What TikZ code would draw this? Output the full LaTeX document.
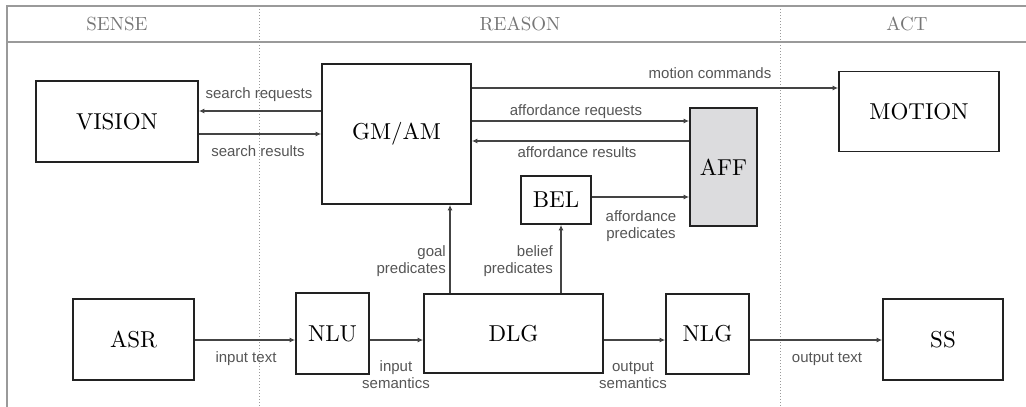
\documentclass[tikz,border=0pt]{standalone}
\usepackage{fontspec}
\usepackage{graphicx}
\newfontfamily\labelfont{Liberation Sans}
\usetikzlibrary{arrows.meta}
\definecolor{frame}{HTML}{9A9A9A}
\definecolor{head}{HTML}{767676}
\definecolor{boxline}{HTML}{222222}
\definecolor{wire}{HTML}{444444}
\definecolor{labtext}{HTML}{555555}
\definecolor{afffill}{HTML}{DCDCDE}
% module names: 10pt Latin Modern enlarged, keeping its wide 10pt design
\newcommand{\modname}[1]{\scalebox{2.3}{#1}}
\newcommand{\lanename}[1]{\scalebox{1.9}{#1}}
\tikzset{
  module/.style={draw=boxline, line width=1.7pt, fill=white, inner sep=0pt},
  lane/.style={text=head, inner sep=0pt},
  flow/.style={draw=wire, line width=1.3pt, -{Latex[length=5.5pt,width=5pt]}},
  tag/.style={text=labtext, inner sep=0pt, align=center,
    font=\labelfont\fontsize{15}{17}\selectfont},
  rtag/.style={tag, align=right, anchor=east},
  divider/.style={draw=frame, line width=1pt, dotted},
}
\begin{document}
\begin{tikzpicture}[x=1pt,y=-1pt]
\useasboundingbox (0,0) rectangle (1026,407);

% frame and lanes
\draw[draw=frame, line width=1.6pt] (1026,6) -- (7,6) -- (7,407);
\draw[draw=frame, line width=1.4pt] (7,42) -- (1026,42);
\draw[divider] (259,6) -- (259,407);
\draw[divider] (780,6) -- (780,407);
\node[lane] (sense) at (117,24) {\lanename{SENSE}};
\node[lane] (reason) at (520,24) {\lanename{REASON}};
\node[lane] (act) at (907,24) {\lanename{ACT}};

% modules
\node[module, minimum width=162pt, minimum height=81pt] (vision) at (117,121.5) {\modname{VISION}};
\node[module, minimum width=149pt, minimum height=140pt] (gm) at (396.5,134) {\modname{GM/AM}};
\node[module, minimum width=160pt, minimum height=80pt] (motion) at (919,111.5) {\modname{MOTION}};
\node[module, fill=afffill, minimum width=67pt, minimum height=118pt] (aff) at (723.5,167) {\modname{AFF}};
\node[module, minimum width=70pt, minimum height=48pt] (bel) at (556,200) {\modname{BEL}};
\node[module, minimum width=121pt, minimum height=81pt] (asr) at (133.5,339.5) {\modname{ASR}};
\node[module, minimum width=73pt, minimum height=81pt] (nlu) at (332.5,333.5) {\modname{NLU}};
\node[module, minimum width=179pt, minimum height=79pt] (dlg) at (513.5,333.5) {\modname{DLG}};
\node[module, minimum width=83pt, minimum height=80pt] (nlg) at (707.5,334) {\modname{NLG}};
\node[module, minimum width=120pt, minimum height=81pt] (ss) at (943,339.5) {\modname{SS}};

% wire levels
\coordinate (ymot) at (0,88);
\coordinate (yreq) at (0,111);
\coordinate (yres) at (0,134);
\coordinate (yafq) at (0,121);
\coordinate (yafr) at (0,141);
\coordinate (ybel) at (0,197);
\coordinate (ytxt) at (0,340);
\coordinate (xgoal) at (450,0);
\coordinate (xbel) at (561,0);

% connectors
\draw[flow] (gm.west |- yreq) -- (vision.east |- yreq);
\draw[flow] (vision.east |- yres) -- (gm.west |- yres);
\draw[flow] (gm.east |- ymot) -- (motion.west |- ymot);
\draw[flow] (gm.east |- yafq) -- (aff.west |- yafq);
\draw[flow] (aff.west |- yafr) -- (gm.east |- yafr);
\draw[flow] (bel.east |- ybel) -- (aff.west |- ybel);
\draw[flow] (dlg.north -| xgoal) -- (gm.south -| xgoal);
\draw[flow] (dlg.north -| xbel) -- (bel.south -| xbel);
\draw[flow] (asr.east |- ytxt) -- (nlu.west |- ytxt);
\draw[flow] (nlu.east |- ytxt) -- (dlg.west |- ytxt);
\draw[flow] (dlg.east |- ytxt) -- (nlg.west |- ytxt);
\draw[flow] (nlg.east |- ytxt) -- (ss.west |- ytxt);

% connector labels
\node[tag] (lsreq) at (259,95) {search requests};
\node[tag] (lsres) at (258,151) {search results};
\node[tag] (lmot) at (710,73) {motion commands};
\node[tag] (lafq) at (576,112) {affordance requests};
\node[tag] (lafr) at (577,152) {affordance results};
\node[tag] (lafp) at (641,226.5) {affordance\\predicates};
\node[rtag] (lgoal) at (446,261) {goal\\predicates};
\node[rtag] (lbelp) at (553,261) {belief\\predicates};
\node[tag] (lin) at (246,359) {input text};
\node[tag] (linsem) at (396,375) {input\\semantics};
\node[tag] (loutsem) at (633,375) {output\\semantics};
\node[tag] (lout) at (827,359) {output text};
\end{tikzpicture}
\end{document}
